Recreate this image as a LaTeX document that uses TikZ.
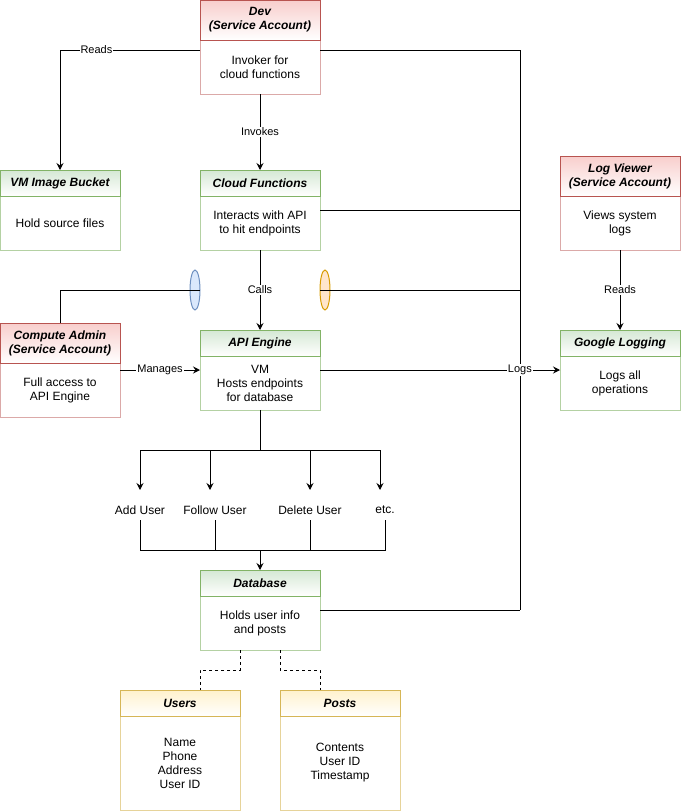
\documentclass[tikz,border=0pt]{standalone}
\usepackage{fontspec}
\setmainfont{Liberation Sans}
\usetikzlibrary{arrows.meta,calc,shapes.geometric}
\definecolor{redfill}{HTML}{F8CECC}
\definecolor{redline}{HTML}{B85450}
\colorlet{redbody}{redline!50!white}
\definecolor{greenfill}{HTML}{D5E8D4}
\definecolor{greenline}{HTML}{82B366}
\colorlet{greenbody}{greenline!60!white}
\definecolor{yellowfill}{HTML}{FFF2CC}
\definecolor{yellowline}{HTML}{D6B656}
\colorlet{yellowbody}{yellowline!60!white}
\definecolor{bluefill}{HTML}{DAE8FC}
\definecolor{blueline}{HTML}{6C8EBF}
\definecolor{orangefill}{HTML}{FFE6CC}
\definecolor{orangeline}{HTML}{D79B00}
\tikzset{
  ttl/.style={align=center, inner sep=0, font=\fontsize{12}{14}\selectfont\bfseries\itshape},
  bodytxt/.style={align=center, inner sep=0, font=\fontsize{12}{14}\selectfont},
  plaintxt/.style={inner sep=0, outer sep=0, minimum height=20pt, font=\fontsize{12}{14}\selectfont},
  lbl/.style={fill=white, inner sep=1pt, font=\fontsize{11}{13}\selectfont},
  arr/.style={-{Stealth[length=7pt,width=7pt,inset=2.5pt]}},
}
\newcommand\lane[8]{%
  \node[draw=#8body, fill=white, minimum width=120pt, minimum height=#4pt, inner sep=0, outer sep=0, anchor=north west] (#1) at (#2,#3) {};
  \shade[top color=#8fill, bottom color=white] (#2,#3) rectangle ++(120,#5);
  \draw[#8line] (#2,#3) rectangle ++(120,#5);
  \node[ttl] at ($(#2,#3)+(60,{#5/2})$) {#6};
  \node[bodytxt] at ($(#2,#3)+(60,{(#4+#5)/2})$) {#7};
}
\begin{document}
\begin{tikzpicture}[x=1pt,y=-1pt,line width=1pt]
\useasboundingbox (0,0) rectangle (681,811);

\lane{dev}{200}{0}{94}{40}{Dev\\(Service Account)}{Invoker for\\cloud functions}{red}
\lane{vm}{0}{170}{80}{26}{VM Image Bucket}{Hold source files}{green}
\lane{cf}{200}{170}{80}{26}{Cloud Functions}{Interacts with API\\to hit endpoints}{green}
\lane{lv}{560}{156}{94}{40}{Log Viewer\\(Service Account)}{Views system\\logs}{red}
\lane{ca}{0}{323}{94}{40}{Compute Admin\\(Service Account)}{Full access to\\API Engine}{red}
\lane{api}{200}{330}{80}{26}{API Engine}{VM\\Hosts endpoints\\for database}{green}
\lane{gl}{560}{330}{80}{26}{Google Logging}{Logs all\\operations}{green}
\lane{db}{200}{570}{80}{26}{Database}{Holds user info\\and posts}{green}
\lane{users}{120}{690}{120}{26}{Users}{Name\\Phone\\Address\\User ID}{yellow}
\lane{posts}{280}{690}{120}{26}{Posts}{Contents\\User ID\\Timestamp}{yellow}

\node[ellipse, draw=blueline, fill=bluefill, minimum width=10pt, minimum height=40pt, inner sep=0, outer sep=0] (eb) at (195,290) {};
\node[ellipse, draw=orangeline, fill=orangefill, minimum width=10pt, minimum height=40pt, inner sep=0, outer sep=0] (eo) at (325,290) {};

\coordinate (busbot) at (520,610);
\coordinate (fan) at (260,450);
\coordinate (mrg) at (260,550);

\node[plaintxt] (add) at (140,510) {Add User};
\node[plaintxt] (follow) at (215,510) {Follow User};
\node[plaintxt] (delete) at (310,510) {Delete User};
\node[plaintxt] (etc) at (385,510) {etc.};

% connectors
\draw[arr] ([yshift=-50pt]dev.north west) -| node[lbl,pos=0.37]{Reads} (vm.north);
\draw[arr] (dev.south) -- node[lbl]{Invokes} (cf.north);
\draw[arr] (cf.south) -- node[lbl]{Calls} (api.north);
\draw[arr] (ca.east) -- node[lbl]{Manages} (api.west);
\draw[arr] (lv.south) -- node[lbl]{Reads} (gl.north);
\draw ([yshift=-50pt]dev.north east) -| (busbot);
\draw (cf.east) -- (cf.east -| busbot);
\draw (eo.west) -- (eo.west -| busbot);
\draw (db.east) -- (busbot);
\draw (ca.north) |- (eb.east);
\draw[arr] (api.east) -- node[lbl,pos=0.833]{Logs} (gl.west);

\draw (api.south) -- (fan);
\draw[arr] (fan) -| ([yshift=10pt]add.north);
\draw[arr] (fan) -| ([xshift=-5pt,yshift=10pt]follow.north);
\draw[arr] (fan) -| ([yshift=10pt]delete.north);
\draw[arr] (fan) -| ([xshift=-5pt,yshift=10pt]etc.north);
\draw (add.south) |- (mrg);
\draw (follow.south) |- (mrg);
\draw (delete.south) |- (mrg);
\draw (etc.south) |- (mrg);
\draw[arr] (mrg) -- (db.north);

\draw[dash pattern=on 3pt off 3pt] ([xshift=-20pt]db.south) -- ++(0,20) -| ([xshift=20pt]users.north);
\draw[dash pattern=on 3pt off 3pt] ([xshift=20pt]db.south) -- ++(0,20) -| ([xshift=-20pt]posts.north);
\end{tikzpicture}
\end{document}
